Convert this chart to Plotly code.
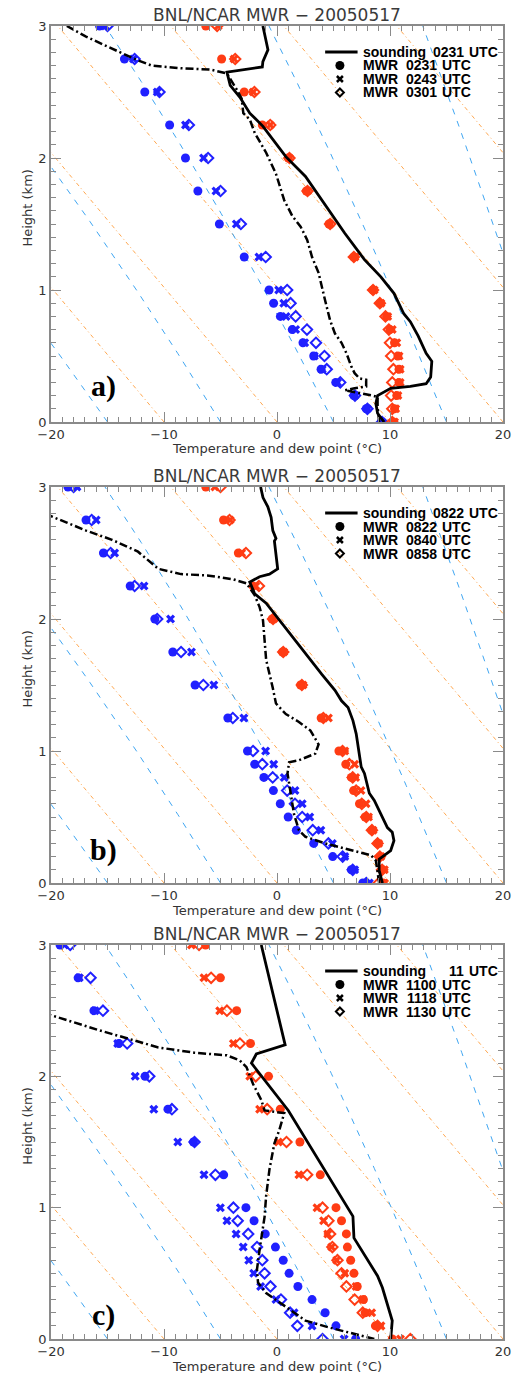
import numpy as np
import plotly.graph_objects as go

# ---------------- data ----------------
LEVELS = [0.0, 0.1, 0.2, 0.3, 0.4, 0.5, 0.6, 0.7, 0.8, 0.9, 1.0,
          1.25, 1.5, 1.75, 2.0, 2.25, 2.5, 2.75, 3.0]

# Panel a
a_T1 = [10.3, 10.4, 10.6, 10.8, 10.8, 10.7, 10.4, 10.0, 9.7, 9.1, 8.5, 6.8, 4.6, 2.6, 1.0, -1.3, -2.9, -4.9, -6.3]
a_T2 = [10.4, 10.5, 10.7, 10.9, 10.9, 10.8, 10.6, 10.2, 9.8, 9.2, 8.6, 6.9, 4.7, 2.7, 1.1, -0.6, -2.1, -3.8, -5.2]
a_T3 = [10.2, 10.2, 10.1, 10.2, 10.3, 10.1, 10.0, 9.9, 9.6, 9.1, 8.5, 6.8, 4.7, 2.7, 1.1, -0.6, -2.0, -3.7, -5.3]
a_Td1 = [9.25, 7.9, 6.8, 5.2, 3.9, 3.25, 2.3, 1.35, 0.3, -0.3, -0.7, -2.9, -5.1, -7.0, -8.1, -9.5, -11.7, -13.5, -15.7]
a_Td2 = [9.3, 8.0, 6.9, 5.35, 4.0, 3.3, 2.45, 1.65, 0.8, 0.6, 0.15, -1.6, -3.6, -5.4, -6.5, -8.1, -10.6, -12.7, -15.2]
a_Td3 = [9.3, 8.0, 6.9, 5.6, 4.4, 4.2, 3.45, 2.65, 1.65, 1.2, 0.9, -1.0, -3.2, -5.0, -6.1, -7.8, -10.4, -12.6, -15.0]
a_snd_T = [9.48, 8.9, 8.75, 8.9, 10.06, 11.8, 13.2, 13.6, 13.7, 13.2, 12.5, 11.8, 11.22, 10.35, 9.19, 7.74,
           6.0, 4.55, 2.52, 0.78, -0.45, -1.24, -2.41, -3.28, -4.14, -4.43, -1.3, -1.25, -0.8, -0.99, -1.25]
a_snd_H = [0.0, 0.066, 0.14, 0.2, 0.255, 0.27, 0.29, 0.34, 0.46, 0.52, 0.65, 0.76, 0.82, 0.975, 1.10, 1.23,
           1.43, 1.61, 1.86, 2.01, 2.145, 2.24, 2.34, 2.46, 2.55, 2.65, 2.69, 2.73, 2.82, 2.89, 3.0]
a_dew_T = [9.04, 8.9, 8.9, 8.46, 7.3, 6.0, 6.87, 7.89, 7.89, 7.3, 6.87, 6.58, 6.15, 5.71, 5.13, 4.7, 4.26,
           3.97, 3.68, 3.1, 2.67, 2.09, 1.36, 0.64, -0.09, -0.96, -1.68, -1.97, -2.4, -2.98, -3.13, -3.57,
           -4.43, -5.9, -8.5, -11.1, -12.3, -13.4, -14.9, -16.9, -18.6]
a_dew_H = [0.0, 0.12, 0.19, 0.2, 0.22, 0.24, 0.255, 0.27, 0.32, 0.33, 0.37, 0.42, 0.52, 0.60, 0.67, 0.77, 0.92,
           1.02, 1.13, 1.25, 1.38, 1.48, 1.56, 1.68, 1.88, 2.04, 2.14, 2.19, 2.29, 2.34, 2.45, 2.52,
           2.64, 2.67, 2.68, 2.70, 2.74, 2.78, 2.84, 2.92, 3.0]

# Panel b
b_T1 = [9.4, 9.33, 9.13, 8.9, 8.38, 7.8, 7.3, 6.78, 6.58, 6.09, 5.48, 3.91, 2.09, 0.49, -0.43, -2.12, -3.42, -4.73, -6.3]
b_T2 = [9.5, 9.5, 9.2, 9.0, 8.5, 8.1, 7.88, 7.43, 6.96, 6.87, 6.0, 4.55, 2.3, 0.6, -0.3, -1.88, -3.13, -4.15, -5.5]
b_T3 = [9.0, 9.3, 9.1, 8.9, 8.4, 7.9, 7.5, 7.0, 6.7, 6.4, 5.8, 4.1, 2.2, 0.55, -0.35, -1.6, -2.75, -4.2, -5.0]
b_Td1 = [7.59, 6.58, 4.93, 3.25, 1.71, 0.99, 0.29, -0.32, -1.16, -1.97, -2.61, -4.35, -7.25, -9.22, -10.81, -12.99, -15.36, -16.9, -18.5]
b_Td2 = [8.17, 6.87, 6.0, 4.9, 3.88, 2.9, 2.23, 1.59, 0.64, -0.29, -1.01, -2.93, -5.59, -7.57, -9.42, -11.77, -14.37, -16.0, -17.7]
b_Td3 = [7.9, 6.7, 5.81, 4.55, 3.16, 2.23, 1.59, 0.9, -0.38, -1.3, -2.12, -3.91, -6.52, -8.49, -10.6, -12.6, -14.72, -16.4, -18.0]
b_snd_T = [9.33, 9.04, 9.04, 10.06, 10.35, 10.2, 9.77, 9.04, 8.61, 8.17, 7.74, 7.45, 7.16, 7.01, 6.72, 6.29,
           5.71, 5.13, 3.97, 2.52, 1.36, 0.2, -0.96, -1.97, -2.41, -1.54, -0.67, 0.06, -0.09, -0.23, -0.09,
           -0.37, -0.52, -0.81, -1.24, -1.45]
b_snd_H = [0.0, 0.095, 0.18, 0.246, 0.32, 0.385, 0.42, 0.55, 0.625, 0.68, 0.83, 0.88, 1.03, 1.13, 1.23, 1.33,
           1.38, 1.46, 1.58, 1.74, 1.86, 1.99, 2.12, 2.19, 2.28, 2.32, 2.34, 2.38, 2.49, 2.59, 2.61,
           2.67, 2.77, 2.85, 2.92, 3.0]
b_dew_T = [9.04, 8.9, 8.75, 8.32, 7.45, 6.0, 4.26, 2.52, 1.94, 1.51, 1.22, 0.93, 1.07, 1.94, 3.39, 3.68, 2.96,
           1.94, 0.78, -0.09, -0.38, -0.67, -0.96, -1.1, -1.24, -1.54, -1.97, -2.7, -3.86, -6.17, -8.5,
           -10.5, -12.3, -14.6, -16.9, -18.6, -19.8, -20.6]
b_dew_H = [0.0, 0.095, 0.17, 0.21, 0.23, 0.26, 0.30, 0.35, 0.40, 0.52, 0.68, 0.83, 0.915, 0.93, 0.98, 1.05, 1.155,
           1.22, 1.28, 1.36, 1.48, 1.58, 1.69, 1.84, 1.99, 2.09, 2.18, 2.27, 2.30, 2.33, 2.34,
           2.38, 2.51, 2.60, 2.67, 2.73, 2.77, 2.80]

# Panel c
c_T1 = [10.2, 8.71, 7.8, 7.65, 7.1, 6.81, 6.52, 6.23, 6.14, 5.71, 5.22, 3.83, 2.03, 0.29, -0.75, -2.35, -3.57, -5.01, -6.32]
c_T2 = [10.93, 9.2, 8.38, 7.59, 7.0, 6.0, 5.28, 4.84, 4.49, 4.12, 3.54, 1.94, 0.12, -1.54, -2.41, -3.86, -5.07, -6.46, -7.57]
c_T3 = [11.8, 8.9, 7.59, 6.87, 6.14, 5.71, 5.35, 4.9, 4.7, 4.55, 4.03, 2.67, 0.84, -0.87, -1.88, -3.28, -4.43, -5.83, -6.9]
c_Td1 = [6.96, 5.22, 4.26, 3.1, 1.85, 1.07, 0.55, -0.14, -1.04, -2.03, -2.75, -4.72, -7.39, -9.65, -11.68, -14.0, -16.2, -17.6, -19.2]
c_Td2 = [5.94, 3.1, 1.51, -0.09, -1.45, -2.06, -2.5, -2.99, -3.62, -4.43, -5.01, -6.46, -8.78, -10.9, -12.55, -14.1, -16.1, -17.5, -18.8]
c_Td3 = [4.03, 1.8, 1.16, 0.35, -0.58, -1.1, -1.3, -1.77, -2.55, -3.48, -3.86, -5.45, -7.3, -9.3, -11.3, -13.26, -15.4, -16.5, -18.3]
c_snd_T = [10.06, 10.2, 9.33, 8.9, 6.81, 6.72, 1.0, -2.26, -1.83, 0.72, -1.39]
c_snd_H = [0.0, 0.139, 0.39, 0.48, 0.77, 0.934, 1.74, 2.10, 2.17, 2.24, 3.0]
c_dew_T = [8.61, 6.87, 4.55, 2.52, 1.07, -0.09, -0.96, -1.68, -1.77, -1.54, -1.3, -1.1, -0.96, -0.67, -0.23,
           0.2, 0.64, -1.1, -1.39, -2.11, -2.7, -3.28, -4.43, -7.33, -10.5, -13.4, -15.7, -19.8, -20.6]
c_dew_H = [0.0, 0.038, 0.089, 0.14, 0.23, 0.30, 0.35, 0.43, 0.53, 0.68, 0.81, 0.93, 1.09, 1.29, 1.49,
           1.59, 1.72, 1.74, 1.82, 1.94, 2.07, 2.12, 2.16, 2.18, 2.22, 2.29, 2.35, 2.46, 2.48]

PANEL_LABELS = ["a)", "b)", "c)"]
SOUNDING_TIMES = ["0231", "0822", "11"]
MWR_TIMES = [["0231", "0243", "0301"], ["0822", "0840", "0858"], ["1100", "1118", "1130"]]
TITLE = "BNL/NCAR MWR − 20050517"
XTITLE = "Temperature and dew point (°C)"
YTITLE = "Height (km)"

# reference lines: surface temperatures of dry / saturated adiabats
DRY_T0 = [-20, -10, 0, 10, 20, 30, 40, 50]
MOIST_T0 = [-25, -15, -5, 5, 15, 25, 35]

panels = [
    dict(T=[a_T1, a_T2, a_T3], Td=[a_Td1, a_Td2, a_Td3], sT=a_snd_T, sH=a_snd_H, dT=a_dew_T, dH=a_dew_H),
    dict(T=[b_T1, b_T2, b_T3], Td=[b_Td1, b_Td2, b_Td3], sT=b_snd_T, sH=b_snd_H, dT=b_dew_T, dH=b_dew_H),
    dict(T=[c_T1, c_T2, c_T3], Td=[c_Td1, c_Td2, c_Td3], sT=c_snd_T, sH=c_snd_H, dT=c_dew_T, dH=c_dew_H),
]

# ---------------- reference adiabats ----------------
ZK = np.linspace(0, 3.2, 161)


def dry_adiabat(t0):
    return t0 - 9.8 * ZK


def moist_adiabat(t0):
    T = t0 + 273.15
    out = [t0]
    for i in range(1, len(ZK)):
        z = ZK[i - 1] * 1000.0
        dz = (ZK[i] - ZK[i - 1]) * 1000.0
        p = 1013.25 * (1 - 2.25577e-5 * z) ** 5.25588
        tc = T - 273.15
        es = 6.112 * np.exp(17.67 * tc / (tc + 243.5))
        rs = 0.622 * es / (p - es)
        lv = 2.501e6
        g = 9.81 * (1 + lv * rs / (287.04 * T)) / (1004.6 + lv * lv * rs * 0.622 / (287.04 * T * T))
        T -= g * dz
        out.append(T - 273.15)
    return np.array(out)


# ---------------- layout geometry ----------------
W, Hfig = 521, 1373
ML, MR, MT, MB = 51, 10, 26, 34
PH = Hfig - MT - MB
tops = [26, 487, 945]
bots = [422, 883, 1339]

AX = "#8a8a8a"
TXT = "#333333"
RED = "#ff3c14"
BLUE = "#2020ff"
LBLUE = "#3fa6f2"
ORANGE = "#ffa850"

fig = go.Figure()
layout = dict(width=W, height=Hfig, margin=dict(l=ML, r=MR, t=MT, b=MB),
              paper_bgcolor="white", plot_bgcolor="white", showlegend=False)
annotations = []
shapes = []

label_y = [0.09, 0.083, 0.061]

for k, pnl in enumerate(panels):
    sfx = "" if k == 0 else str(k + 1)
    xa, ya = "x" + sfx, "y" + sfx
    d0 = (Hfig - MB - bots[k]) / PH
    d1 = (Hfig - MB - tops[k]) / PH
    d0 = max(0.0, d0)
    d1 = min(1.0, d1)
    ph = bots[k] - tops[k]

    layout["xaxis" + sfx] = dict(
        range=[-20, 20], anchor=ya, domain=[0, 1], tickvals=[-20, -10, 0, 10, 20],
        ticks="inside", ticklen=10, tickwidth=1.2, tickcolor=AX,
        showline=True, linecolor=AX, linewidth=1.5, mirror="ticks",
        showgrid=False, zeroline=False,
        minor=dict(dtick=1, ticks="inside", ticklen=5, tickwidth=1.2, tickcolor=AX, showgrid=False),
        tickfont=dict(family="DejaVu Sans", size=13, color=TXT))
    layout["yaxis" + sfx] = dict(
        range=[0, 3], anchor=xa, domain=[d0, d1], tickvals=[0, 1, 2, 3],
        ticks="inside", ticklen=10, tickwidth=1.2, tickcolor=AX,
        showline=True, linecolor=AX, linewidth=1.5, mirror="ticks",
        showgrid=False, zeroline=False,
        minor=dict(dtick=0.1, ticks="inside", ticklen=5, tickwidth=1.2, tickcolor=AX, showgrid=False),
        tickfont=dict(family="DejaVu Sans", size=13, color=TXT))

    # background adiabats
    for t0 in DRY_T0:
        fig.add_trace(go.Scatter(x=dry_adiabat(t0), y=ZK, mode="lines", xaxis=xa, yaxis=ya,
                                 line=dict(color=ORANGE, width=1, dash="4px,3px,1px,3px"),
                                 hoverinfo="skip"))
    for t0 in MOIST_T0:
        fig.add_trace(go.Scatter(x=moist_adiabat(t0), y=ZK, mode="lines", xaxis=xa, yaxis=ya,
                                 line=dict(color=LBLUE, width=1, dash="6px,7px"),
                                 hoverinfo="skip"))

    # MWR markers
    syms = [dict(symbol="circle", size=9),
            dict(symbol="x", size=8),
            dict(symbol="diamond-open", size=8)]
    for j in range(3):
        for series, col in ((pnl["Td"][j], BLUE), (pnl["T"][j], RED)):
            m = dict(color=col, **syms[j])
            if j == 2:
                m["line"] = dict(color=col, width=2)
            else:
                m["line"] = dict(width=0)
            fig.add_trace(go.Scatter(x=series, y=LEVELS, mode="markers", xaxis=xa, yaxis=ya,
                                     marker=m))

    # soundings
    fig.add_trace(go.Scatter(x=pnl["dT"], y=pnl["dH"], mode="lines", xaxis=xa, yaxis=ya,
                             line=dict(color="black", width=2.5, dash="8px,3px,2px,3px")))
    fig.add_trace(go.Scatter(x=pnl["sT"], y=pnl["sH"], mode="lines", xaxis=xa, yaxis=ya,
                             line=dict(color="black", width=2.8)))

    xd, yd = xa + " domain", ya + " domain"
    # title
    annotations.append(dict(text=TITLE, xref=xd, yref=yd, x=0.5, y=1 + 11 / ph,
                            xanchor="center", yanchor="middle", showarrow=False,
                            font=dict(family="DejaVu Sans", size=17, color="#3a3a3a")))
    annotations.append(dict(text=XTITLE, xref=xd, yref=yd, x=0.5, y=-27 / ph,
                            xanchor="center", yanchor="middle", showarrow=False,
                            font=dict(family="DejaVu Sans", size=13, color=TXT)))
    annotations.append(dict(text=YTITLE, xref=xd, yref=yd, x=(27 - ML) / 460, y=0.54,
                            xanchor="center", yanchor="middle", showarrow=False, textangle=-90,
                            font=dict(family="DejaVu Sans", size=13, color=TXT)))
    annotations.append(dict(text="<b>" + PANEL_LABELS[k] + "</b>", xref=xd, yref=yd,
                            x=(104 - ML) / 460, y=label_y[k],
                            xanchor="center", yanchor="middle", showarrow=False,
                            font=dict(family="Liberation Serif", size=30, color="black")))

    # legend (keys + text)
    rows = [26, 39.5, 53, 66.5]
    names = ["sounding", "MWR", "MWR", "MWR"]
    times = [SOUNDING_TIMES[k]] + MWR_TIMES[k]
    lf = dict(family="Liberation Sans", size=14, color="black")
    for i in range(4):
        yy = 1 - rows[i] / ph
        common = dict(xref=xd, yref=yd, y=yy, yanchor="middle", showarrow=False,
                      font=lf, borderpad=0)
        annotations.append(dict(text="<b>" + names[i] + "</b>", x=(368 - ML) / 460,
                                xanchor="left", **common))
        utc_x = 475 if i == 0 else 448
        annotations.append(dict(text="<b>" + times[i] + "</b>", x=(utc_x - 3 - ML) / 460,
                                xanchor="right", **common))
        annotations.append(dict(text="<b>UTC</b>", x=(utc_x - ML) / 460,
                                xanchor="left", **common))
    kx = (345 - ML) / 460
    shapes.append(dict(type="line", xref=xd, yref=yd, x0=(330 - ML) / 460, x1=(363 - ML) / 460,
                       y0=1 - rows[0] / ph, y1=1 - rows[0] / ph, line=dict(color="black", width=3)))
    shapes.append(dict(type="circle", xref=xd, yref=yd, xsizemode="pixel", ysizemode="pixel",
                       xanchor=kx, yanchor=1 - rows[1] / ph, x0=-4.5, x1=4.5, y0=-4.5, y1=4.5,
                       fillcolor="black", line=dict(width=0)))
    shapes.append(dict(type="path", xref=xd, yref=yd, xsizemode="pixel", ysizemode="pixel",
                       xanchor=kx, yanchor=1 - rows[2] / ph,
                       path="M-3,-3L3,3M-3,3L3,-3", line=dict(color="black", width=2.5)))
    shapes.append(dict(type="path", xref=xd, yref=yd, xsizemode="pixel", ysizemode="pixel",
                       xanchor=kx, yanchor=1 - rows[3] / ph,
                       path="M0,-4L4,0L0,4L-4,0Z", line=dict(color="black", width=2)))

layout["annotations"] = annotations
layout["shapes"] = shapes
fig.update_layout(**layout)
fig.write_html("out.html", config={"displayModeBar": False},
               post_script="document.body.style.margin='0';document.body.style.overflow='hidden';")
